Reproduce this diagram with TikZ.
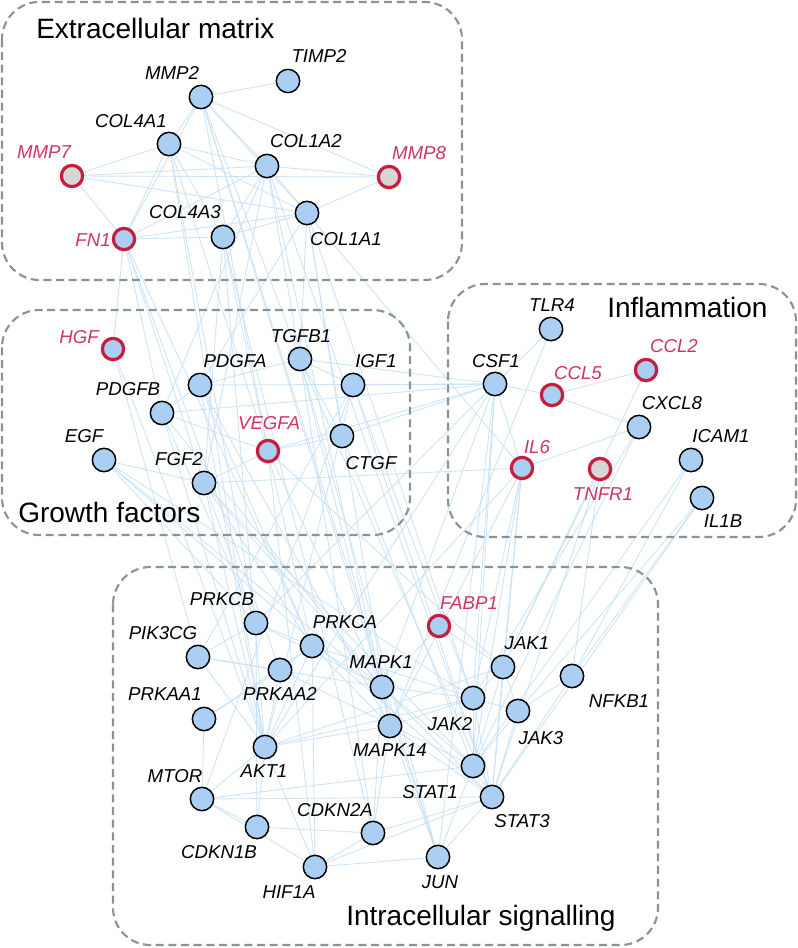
\documentclass[tikz,border=0pt]{standalone}
\usepackage{fontspec}
\setmainfont{Liberation Sans}
\usetikzlibrary{positioning, backgrounds}

\definecolor{geneblue}{RGB}{170,207,242}
\definecolor{hitred}{RGB}{200,30,62}
\definecolor{hittext}{RGB}{208,52,96}
\definecolor{nogray}{RGB}{214,214,214}
\definecolor{boxgray}{RGB}{138,148,148}
\definecolor{linkblue}{RGB}{196,223,246}

\tikzset{
  gene/.style={circle, draw=black, fill=geneblue, line width=1.1pt, minimum size=17.5pt, inner sep=0pt},
  hit/.style={gene, draw=hitred, line width=2.4pt, minimum size=16pt},
  hitgray/.style={hit, fill=nogray},
  lbl/.style={font=\fontsize{14}{16}\selectfont\itshape, inner sep=0pt},
  hitlbl/.style={lbl, text=hittext},
  grp/.style={draw=boxgray, line width=1.6pt, dash pattern=on 6pt off 3.5pt, rounded corners=28pt},
  grptitle/.style={font=\fontsize{21}{25}\selectfont, inner sep=0pt, anchor=base west},
  link/.style={draw=linkblue, line width=0.65pt, opacity=0.85}
}

\begin{document}
\begin{tikzpicture}[x=0.75pt, y=-0.75pt]
    \useasboundingbox (0,0) rectangle (798,948);

    % groups
    \draw[grp] (2,2) rectangle (462,280);
    \draw[grp] (2,310) rectangle (410,535);
    \draw[grp] (448,284) rectangle (796,537);
    \draw[grp] (113,567) rectangle (658,945);
    \node[grptitle] (ecm) at (36,39) {Extracellular matrix};
    \node[grptitle] (gf) at (18,522) {Growth factors};
    \node[grptitle] (infl) at (607,317) {Inflammation};
    \node[grptitle] (sig) at (346,925) {Intracellular signalling};

    % extracellular matrix
    \node[gene] (MMP2) at (201,97) {};
    \node[gene] (TIMP2) at (288,81) {};
    \node[gene] (COL4A1) at (169,144) {};
    \node[gene] (COL1A2) at (267,166) {};
    \node[hitgray] (MMP7) at (72,176) {};
    \node[hitgray] (MMP8) at (389,177) {};
    \node[gene] (COL4A3) at (223,237) {};
    \node[gene] (COL1A1) at (307,213) {};
    \node[hit] (FN1) at (124,239) {};

    \node[lbl] (tMMP2) at (172,73) {MMP2};
    \node[lbl] (tTIMP2) at (319,56) {TIMP2};
    \node[lbl] (tCOL4A1) at (131,121) {COL4A1};
    \node[lbl] (tCOL1A2) at (306,141) {COL1A2};
    \node[hitlbl] (tMMP7) at (44,152) {MMP7};
    \node[hitlbl] (tMMP8) at (419,153) {MMP8};
    \node[lbl] (tCOL4A3) at (185,212) {COL4A3};
    \node[lbl] (tCOL1A1) at (346,239) {COL1A1};
    \node[hitlbl] (tFN1) at (93,240) {FN1};

    % growth factors
    \node[hit] (HGF) at (113,349) {};
    \node[gene] (PDGFA) at (200,385) {};
    \node[gene] (TGFB1) at (300,359) {};
    \node[gene] (IGF1) at (353,385) {};
    \node[gene] (PDGFB) at (162,413) {};
    \node[gene] (EGF) at (104,460) {};
    \node[gene] (FGF2) at (204,483) {};
    \node[hit] (VEGFA) at (268,451) {};
    \node[gene] (CTGF) at (342,436) {};

    \node[hitlbl] (tHGF) at (79,337) {HGF};
    \node[lbl] (tPDGFA) at (235,361) {PDGFA};
    \node[lbl] (tTGFB1) at (301,336) {TGFB1};
    \node[lbl] (tIGF1) at (376,361) {IGF1};
    \node[lbl] (tPDGFB) at (128,389) {PDGFB};
    \node[lbl] (tEGF) at (84,436) {EGF};
    \node[lbl] (tFGF2) at (179,459) {FGF2};
    \node[hitlbl] (tVEGFA) at (269,423) {VEGFA};
    \node[lbl] (tCTGF) at (371,463) {CTGF};

    % inflammation
    \node[gene] (TLR4) at (551,329) {};
    \node[gene] (CSF1) at (495,384) {};
    \node[hit] (CCL5) at (552,395) {};
    \node[hit] (CCL2) at (646,370) {};
    \node[gene] (CXCL8) at (639,427) {};
    \node[gene] (ICAM1) at (691,460) {};
    \node[hit] (IL6) at (522,468) {};
    \node[hitgray] (TNFR1) at (600,469) {};
    \node[gene] (IL1B) at (702,498) {};

    \node[lbl] (tTLR4) at (552,305) {TLR4};
    \node[lbl] (tCSF1) at (496,361) {CSF1};
    \node[hitlbl] (tCCL5) at (578,373) {CCL5};
    \node[hitlbl] (tCCL2) at (674,346) {CCL2};
    \node[lbl] (tCXCL8) at (672,403) {CXCL8};
    \node[lbl] (tICAM1) at (721,436) {ICAM1};
    \node[hitlbl] (tIL6) at (537,447) {IL6};
    \node[hitlbl] (tTNFR1) at (603,494) {TNFR1};
    \node[lbl] (tIL1B) at (723,521) {IL1B};

    % intracellular signalling
    \node[gene] (PRKCB) at (256,623) {};
    \node[gene] (PRKCA) at (312,646) {};
    \node[gene] (PIK3CG) at (198,657) {};
    \node[gene] (PRKAA2) at (280,670) {};
    \node[hit] (FABP1) at (439,626) {};
    \node[gene] (MAPK1) at (382,687) {};
    \node[gene] (JAK1) at (503,667) {};
    \node[gene] (NFKB1) at (572,676) {};
    \node[gene] (PRKAA1) at (204,719) {};
    \node[gene] (JAK2) at (473,698) {};
    \node[gene] (JAK3) at (518,711) {};
    \node[gene] (MAPK14) at (390,726) {};
    \node[gene] (AKT1) at (265,747) {};
    \node[gene] (STAT1) at (473,766) {};
    \node[gene] (MTOR) at (202,799) {};
    \node[gene] (STAT3) at (492,797) {};
    \node[gene] (CDKN2A) at (373,833) {};
    \node[gene] (CDKN1B) at (257,827) {};
    \node[gene] (HIF1A) at (315,867) {};
    \node[gene] (JUN) at (438,857) {};

    \node[lbl] (tPRKCB) at (222,599) {PRKCB};
    \node[lbl] (tPRKCA) at (345,622) {PRKCA};
    \node[lbl] (tPIK3CG) at (163,633) {PIK3CG};
    \node[lbl] (tPRKAA2) at (280,694) {PRKAA2};
    \node[hitlbl] (tFABP1) at (469,603) {FABP1};
    \node[lbl] (tMAPK1) at (381,662) {MAPK1};
    \node[lbl] (tJAK1) at (527,643) {JAK1};
    \node[lbl] (tNFKB1) at (619,701) {NFKB1};
    \node[lbl] (tPRKAA1) at (165,694) {PRKAA1};
    \node[lbl] (tJAK2) at (450,724) {JAK2};
    \node[lbl] (tJAK3) at (541,738) {JAK3};
    \node[lbl] (tMAPK14) at (390,750) {MAPK14};
    \node[lbl] (tAKT1) at (264,771) {AKT1};
    \node[lbl] (tSTAT1) at (430,792) {STAT1};
    \node[lbl] (tMTOR) at (175,776) {MTOR};
    \node[lbl] (tSTAT3) at (522,821) {STAT3};
    \node[lbl] (tCDKN2A) at (335,810) {CDKN2A};
    \node[lbl] (tCDKN1B) at (219,852) {CDKN1B};
    \node[lbl] (tHIF1A) at (289,892) {HIF1A};
    \node[lbl] (tJUN) at (440,882) {JUN};

    % interactions
    \begin{scope}[on background layer]
    \foreach \a/\b in {MMP2/TIMP2, MMP2/COL4A1, MMP2/COL1A2, MMP2/COL1A1, MMP2/MMP8, MMP2/FN1,
        COL4A1/COL1A2, COL4A1/COL1A1, COL4A1/MMP7, COL4A1/FN1, COL4A1/COL4A3, MMP7/COL1A2,
        MMP7/MMP8, MMP7/FN1, MMP7/COL1A1, COL1A2/MMP8, COL1A2/COL1A1, COL1A2/FN1, COL1A2/COL4A3,
        MMP8/COL1A1, FN1/COL4A3, FN1/COL1A1, COL4A3/COL1A1,
        FN1/HGF, FN1/PDGFB, FN1/FGF2, COL4A1/VEGFA, COL4A1/AKT1, COL4A3/VEGFA, COL4A3/FGF2,
        MMP2/VEGFA, MMP2/TGFB1, MMP2/MAPK1, COL1A2/TGFB1, COL1A2/PDGFB, COL1A2/FGF2,
        COL1A1/TGFB1, COL1A1/CTGF, COL1A1/PDGFA, COL1A1/IL6,
        COL4A1/PRKCB, COL4A3/AKT1, FN1/PRKAA2, COL1A2/MAPK1, COL1A1/JAK2, COL1A2/STAT3,
        MMP2/JUN, COL4A3/CDKN2A, FN1/PRKCA, COL1A1/MAPK14,
        HGF/PIK3CG, HGF/AKT1, PDGFA/PDGFB, PDGFA/TGFB1, PDGFA/CSF1, PDGFA/PRKCA, PDGFA/AKT1,
        PDGFA/MAPK14, PDGFB/CSF1, PDGFB/AKT1, PDGFB/PRKCB, PDGFB/VEGFA, PDGFB/MAPK1,
        TGFB1/IGF1, TGFB1/CSF1, TGFB1/STAT3, TGFB1/MAPK14,
        TGFB1/JUN, TGFB1/CDKN2A, IGF1/CSF1, IGF1/AKT1, IGF1/MTOR, IGF1/STAT3, IGF1/JAK2,
        IGF1/PIK3CG, CTGF/VEGFA, CTGF/CSF1, CTGF/TGFB1, CTGF/STAT1, VEGFA/CSF1, VEGFA/MAPK1,
        VEGFA/PRKCA, VEGFA/HIF1A, VEGFA/FGF2, VEGFA/JAK1, FGF2/EGF,
        FGF2/IL6, FGF2/PRKCB, FGF2/MAPK1, FGF2/STAT1, FGF2/AKT1, FGF2/PRKCA, EGF/PRKCB,
        EGF/STAT3, EGF/MAPK1, EGF/JAK2,
        TLR4/CSF1, TLR4/MAPK14, CSF1/CCL5, CSF1/IL6, CSF1/JAK2, CSF1/STAT1, CSF1/MAPK1,
        CSF1/AKT1, CSF1/JUN, CSF1/PRKCB, CCL5/CCL2, CCL5/CXCL8, CCL2/JAK1, CXCL8/IL6, CXCL8/STAT1,
        CXCL8/JAK2, IL6/JAK1, IL6/JAK2, IL6/STAT3, IL6/STAT1, IL6/MAPK14, IL6/AKT1,
        TNFR1/NFKB1, TNFR1/JAK1, TNFR1/STAT3, ICAM1/NFKB1, ICAM1/STAT1, IL1B/NFKB1,
        IL1B/JAK3, IL1B/STAT3,
        PRKCB/PRKCA, PRKCB/PIK3CG, PRKCB/CDKN1B, PRKCB/MAPK1, PIK3CG/PRKAA2, PIK3CG/AKT1,
        PIK3CG/MAPK1, PRKAA1/MTOR, PRKAA1/PRKAA2, PRKAA1/PRKCA, PRKAA2/PRKCA, PRKAA2/AKT1,
        PRKAA2/STAT1, PRKCA/MAPK1, PRKCA/AKT1, PRKCA/MAPK14, PRKCA/JAK2, PRKCA/HIF1A,
        MAPK1/MAPK14, MAPK1/JAK2, MAPK1/STAT1, MAPK1/STAT3, MAPK1/JUN, MAPK1/FABP1,
        MAPK1/CDKN2A, MAPK14/JUN, MAPK14/STAT3, MAPK14/JAK2, AKT1/MTOR, AKT1/MAPK14,
        AKT1/JAK2, AKT1/CDKN1B, AKT1/HIF1A, AKT1/JAK1, MTOR/CDKN1B, MTOR/STAT1, MTOR/STAT3,
        MTOR/HIF1A, CDKN1B/CDKN2A, CDKN2A/HIF1A, CDKN2A/STAT3, CDKN2A/MAPK14, HIF1A/JUN,
        HIF1A/STAT3, JUN/STAT3, JUN/STAT1, JAK1/JAK2, JAK1/JAK3, JAK1/STAT1, JAK1/STAT3,
        JAK2/JAK3, JAK2/STAT1, JAK2/STAT3, JAK3/STAT3, JAK3/STAT1, NFKB1/JAK3, NFKB1/STAT3,
        STAT1/STAT3, FABP1/JAK1}
        \draw[link] (\a) -- (\b);
    \end{scope}
\end{tikzpicture}
\end{document}
